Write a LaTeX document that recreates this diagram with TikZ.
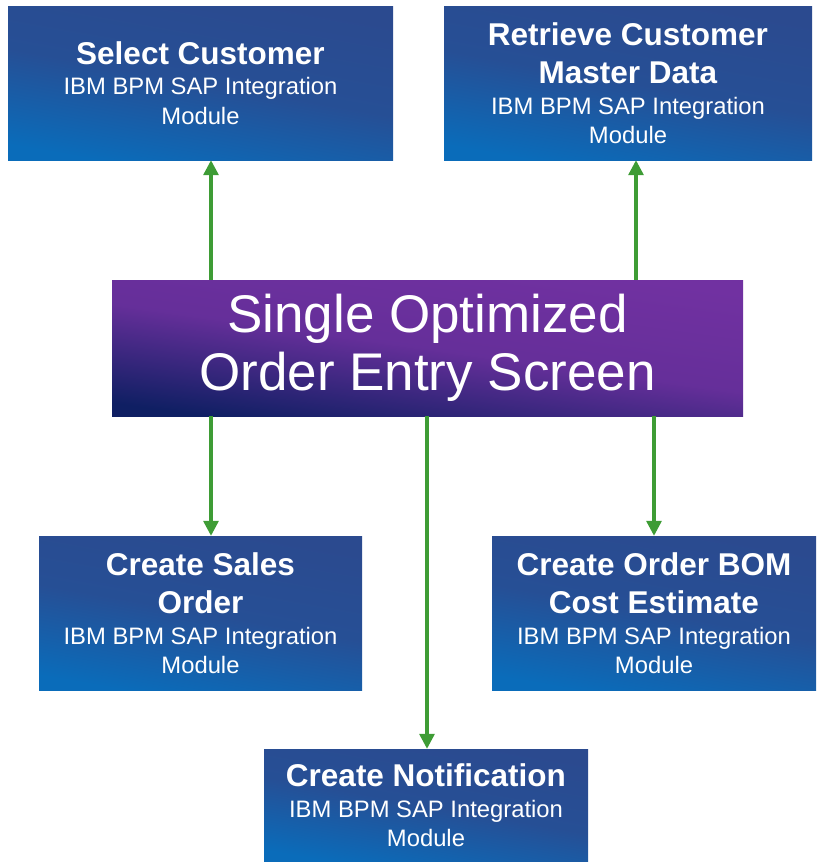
\documentclass[tikz,border=0pt]{standalone}
\usepackage{fontspec}
\setmainfont{Liberation Sans}
\usetikzlibrary{arrows.meta,calc}
\definecolor{btop}{HTML}{2B4A8F}
\definecolor{bbot}{HTML}{0A6CBA}
\definecolor{ptop}{HTML}{7131A1}
\definecolor{pbot}{HTML}{0F1F63}
\definecolor{arrg}{HTML}{3E9C35}
\tikzset{
  bluebox/.style={rectangle, inner sep=0pt, text=white, align=center,
    font=\fontsize{23.8}{29.5}\selectfont,
    top color=btop, bottom color=bbot, middle color=btop!85!bbot, shading angle=-10},
  purplebox/.style={rectangle, inner sep=0pt, text=white, align=center,
    font=\fontsize{53}{58}\selectfont,
    top color=ptop, bottom color=pbot, middle color=ptop!88!pbot, shading angle=-8},
  arr/.style={draw=arrg, line width=3.2pt, -{Triangle[width=15pt,length=15pt]}},
}
\newcommand{\ttl}[1]{{\fontsize{31.5}{37}\selectfont\bfseries #1}}
\newcommand{\sub}{IBM BPM SAP Integration\\Module}
\begin{document}
\begin{tikzpicture}[x=1pt,y=-1pt]
\useasboundingbox (0,0) rectangle (820,862);
\node[bluebox, minimum width=385pt, minimum height=154pt] (sel) at (200.5,83) {\ttl{Select Customer}\\[1pt]\sub};
\node[bluebox, minimum width=368pt, minimum height=154pt] (ret) at (628,83) {\ttl{Retrieve Customer}\\[9pt]\ttl{Master Data}\\[1pt]\sub};
\node[purplebox, minimum width=631pt, minimum height=136pt] (main) at (427.5,348) {Single Optimized\\Order Entry Screen};
\node[bluebox, minimum width=323pt, minimum height=154pt] (sales) at (200.5,613) {\ttl{Create Sales}\\[9pt]\ttl{Order}\\[1pt]\sub};
\node[bluebox, minimum width=324pt, minimum height=154pt] (bom) at (654,613) {\ttl{Create Order BOM}\\[9pt]\ttl{Cost Estimate}\\[1pt]\sub};
\node[bluebox, minimum width=324pt, minimum height=113pt] (notif) at (426,805.5) {\ttl{Create Notification}\\[1pt]\sub};
\coordinate (xa) at (211,0);
\coordinate (xb) at (636,0);
\coordinate (xc) at (427,0);
\draw[arr] (main.north -| xa) -- (sel.south -| xa);
\draw[arr] (main.north -| xb) -- (ret.south -| xb);
\draw[arr] (main.south -| xa) -- (sales.north -| xa);
\draw[arr] (main.south -| xc) -- (notif.north -| xc);
\draw[arr] (main.south -| bom.north) -- (bom.north);
\end{tikzpicture}
\end{document}
